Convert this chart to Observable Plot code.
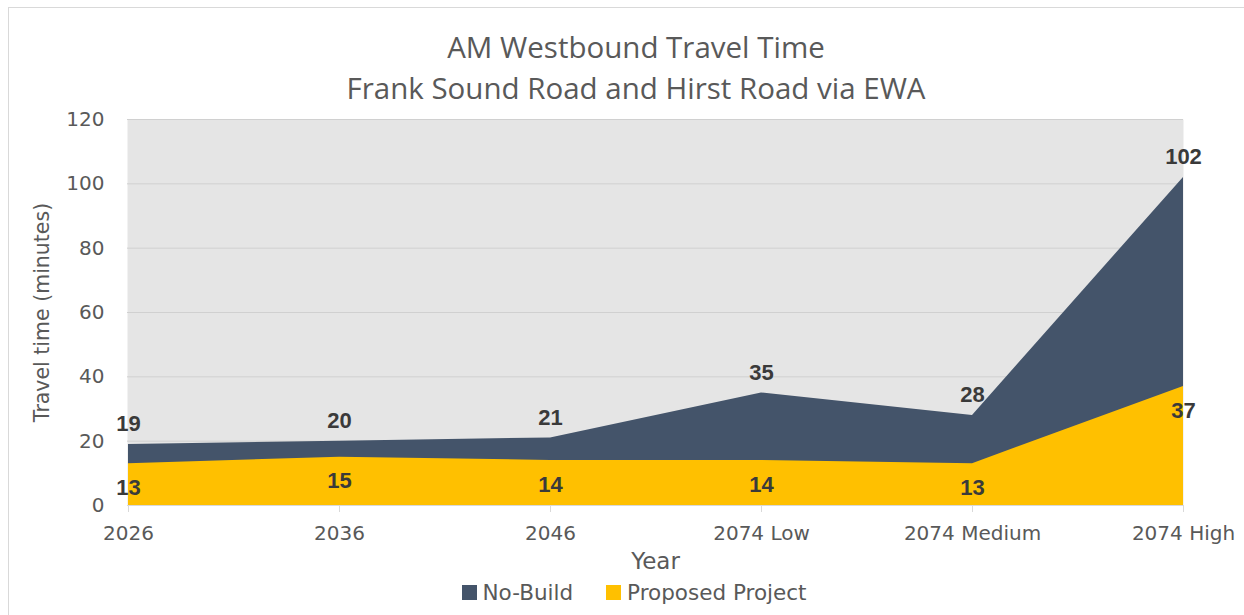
<!DOCTYPE html>
<html><head><meta charset="utf-8">
<script src="https://cdn.jsdelivr.net/npm/d3@7"></script>
<script src="https://cdn.jsdelivr.net/npm/@observablehq/plot@0.6"></script>
<style>
body{margin:0;background:#fff;width:1244px;height:615px;overflow:hidden;position:relative;font-family:"DejaVu Sans",sans-serif;}
#frame{position:absolute;left:8px;top:7px;right:0;bottom:0;border-left:1px solid #d9d9d9;border-top:1px solid #d9d9d9;}
#title{position:absolute;left:0;top:26px;width:1272px;text-align:center;font-family:"Open Sans",sans-serif;font-size:29.5px;line-height:41px;color:#595959;}
#chart{position:absolute;left:0;top:108px;}
#legend{position:absolute;left:0;width:1268px;top:580px;display:flex;justify-content:center;gap:33px;font-size:21.5px;color:#595959;}
#legend span.item{display:flex;align-items:center;gap:6px;}
#legend i{display:inline-block;width:15px;height:15px;}
</style></head>
<body>
<div id="frame"></div>
<div id="title">AM Westbound Travel Time<br>Frank Sound Road and Hirst Road via EWA</div>
<div id="chart"></div>
<div id="legend"></div>
<script>
const years = ["2026", "2036", "2046", "2074 Low", "2074 Medium", "2074 High"];
const noBuild = [19, 20, 21, 35, 28, 102];
const proposed = [13, 15, 14, 14, 13, 37];
const yTicks = [0, 20, 40, 60, 80, 100, 120];
const seriesNames = ["No-Build", "Proposed Project"];
const seriesColors = ["#44546A", "#FFC000"];

const data = years.map((year, i) => ({year, noBuild: noBuild[i], proposed: proposed[i]}));

const chart = Plot.plot({
  width: 1244, height: 460,
  marginLeft: 127, marginRight: 61, marginTop: 11, marginBottom: 63,
  style: {fontFamily: "DejaVu Sans", fontSize: "20px", color: "#595959", background: "transparent", overflow: "visible"},
  x: {type: "point", domain: years, padding: 0, label: "Year"},
  y: {domain: [0, 120], ticks: yTicks, label: "Travel time (minutes)"},
  marks: [
    Plot.frame({fill: "#E5E5E5", stroke: null}),
    Plot.gridY(yTicks, {stroke: "#D0D0D0", strokeOpacity: 1}),
    Plot.areaY(data, {x: "year", y: "noBuild", fill: seriesColors[0]}),
    Plot.areaY(data, {x: "year", y: "proposed", fill: seriesColors[1]}),
    Plot.ruleY([0], {stroke: "#D9D9D9"}),
    Plot.axisX({tickSize: 7, tickPadding: 13, stroke: "#D9D9D9", fill: "#595959", fontSize: 20, label: null}),
    Plot.axisX({ticks: [], tickSize: 0, label: "Year", labelAnchor: "center", labelArrow: "none", labelOffset: 63, fontSize: 23, fill: "#595959"}),
    Plot.axisY({ticks: yTicks, tickSize: 0, tickPadding: 23, fill: "#595959", fontSize: 20, label: null}),
    Plot.axisY({ticks: [], tickSize: 0, label: "Travel time (minutes)", labelAnchor: "center", labelArrow: "none", labelOffset: 93, fontSize: 20.5, fill: "#595959"}),
    Plot.text(data, {x: "year", y: "noBuild", text: "noBuild", dy: -20, fontFamily: "Liberation Sans", fontWeight: "bold", fontSize: 22, fill: "#3A3A3A"}),
    Plot.text(data, {x: "year", y: "proposed", text: "proposed", dy: 24, fontFamily: "Liberation Sans", fontWeight: "bold", fontSize: 22, fill: "#3A3A3A"})
  ]
});
document.getElementById("chart").appendChild(chart);

const legend = document.getElementById("legend");
seriesNames.forEach((name, i) => {
  const item = document.createElement("span");
  item.className = "item";
  const sw = document.createElement("i");
  sw.style.background = seriesColors[i];
  item.appendChild(sw);
  item.appendChild(document.createTextNode(name));
  legend.appendChild(item);
});
</script>
</body></html>
